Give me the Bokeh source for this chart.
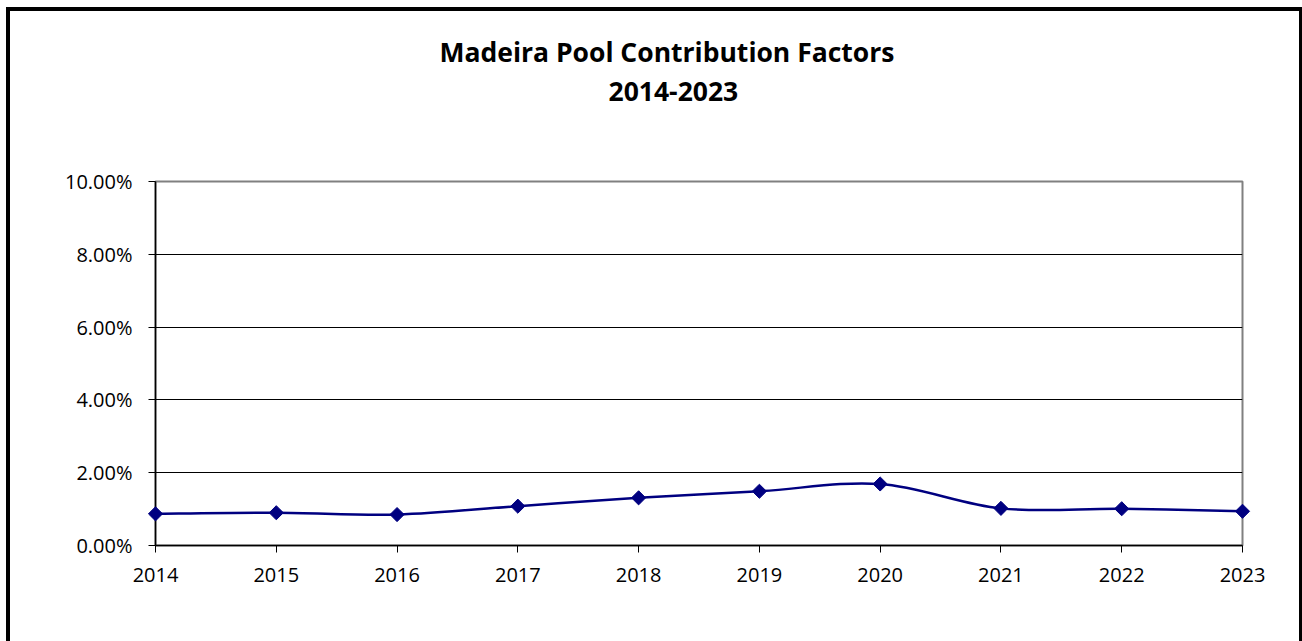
import math
from bokeh.plotting import figure
from bokeh.models import Title, NumeralTickFormatter, FixedTicker, Range1d, ColumnDataSource
from bokeh.embed import file_html
from bokeh.resources import INLINE

# ---- data ----
years = [2014, 2015, 2016, 2017, 2018, 2019, 2020, 2021, 2022, 2023]
values = [0.0087, 0.0090, 0.0085, 0.0108, 0.0131, 0.0149, 0.0169, 0.0102, 0.0101, 0.0094]
y_ticks = [0.0, 0.02, 0.04, 0.06, 0.08, 0.10]
grid_ticks = [0.02, 0.04, 0.06, 0.08]
title_lines = ["Madeira Pool Contribution Factors", "2014-2023"]

FONT = "Open Sans"
NAVY = "#000080"

p = figure(width=1302, height=641, output_backend="svg", toolbar_location=None,
           x_range=Range1d(years[0], years[-1]), y_range=Range1d(y_ticks[0], y_ticks[-1]),
           min_border_left=155, min_border_right=60, min_border_top=181, min_border_bottom=96)
p.background_fill_color = "white"
p.border_fill_color = None
p.outline_line_color = "#808080"
p.outline_line_width = 2

# outer black frame (left, top, right) drawn behind the transparent canvas border
p.styles = {
    "background": "white",
    "box-shadow": ("inset 6px 0 0 0 white, inset 0 7px 0 0 white, "
                   "inset 10px 0 0 0 black, inset 0 11px 0 0 black, inset -3px 0 0 0 black"),
}

# axes
for ax in (p.xaxis[0], p.yaxis[0]):
    ax.axis_line_color = "black"
    ax.axis_line_width = 1.5
    ax.major_tick_line_color = "black"
    ax.major_tick_line_width = 1
    ax.major_tick_out = 7
    ax.major_tick_in = 0
    ax.minor_tick_line_color = None
    ax.major_label_text_font = FONT
    ax.major_label_text_font_size = "20px"
    ax.major_label_text_color = "black"

p.xaxis.ticker = FixedTicker(ticks=years)
p.xaxis.major_label_standoff = 15
p.yaxis.ticker = FixedTicker(ticks=y_ticks)
p.yaxis.formatter = NumeralTickFormatter(format="0.00%")
p.yaxis.major_label_standoff = 16

p.xgrid.grid_line_color = None
p.ygrid.ticker = FixedTicker(ticks=grid_ticks)
p.ygrid.grid_line_color = "black"
p.ygrid.grid_line_width = 1

# smoothed line (Catmull-Rom style bezier segments, as Excel's smoothed line)
n = len(years)
seg = dict(x0=[], y0=[], x1=[], y1=[], cx0=[], cy0=[], cx1=[], cy1=[])
for i in range(n - 1):
    xm1, ym1 = (years[i - 1], values[i - 1]) if i > 0 else (years[i], values[i])
    xp2, yp2 = (years[i + 2], values[i + 2]) if i + 2 < n else (years[i + 1], values[i + 1])
    seg["x0"].append(years[i]); seg["y0"].append(values[i])
    seg["x1"].append(years[i + 1]); seg["y1"].append(values[i + 1])
    seg["cx0"].append(years[i] + (years[i + 1] - xm1) / 6)
    seg["cy0"].append(values[i] + (values[i + 1] - ym1) / 6)
    seg["cx1"].append(years[i + 1] - (xp2 - years[i]) / 6)
    seg["cy1"].append(values[i + 1] - (yp2 - values[i]) / 6)
p.bezier(x0="x0", y0="y0", x1="x1", y1="y1", cx0="cx0", cy0="cy0", cx1="cx1", cy1="cy1",
         source=ColumnDataSource(seg), line_color=NAVY, line_width=2.5)

pts = p.scatter(years, values, marker="square", size=10, angle=math.pi / 4,
                fill_color=NAVY, line_color=NAVY)
pts.level = "overlay"

# title: spacer + two lines (added nearest-to-frame first)
spacer = Title(text=" ", text_font_size="2px", standoff=68, text_color="white")
t2 = Title(text=title_lines[1], align="left", offset=453, standoff=17,
           text_font=FONT, text_font_style="bold", text_font_size="26.5px", text_color="black")
t1 = Title(text=title_lines[0], align="left", offset=284, standoff=4,
           text_font=FONT, text_font_style="bold", text_font_size="26.5px", text_color="black")
p.add_layout(spacer, "above")
p.add_layout(t2, "above")
p.add_layout(t1, "above")

open("out.html", "w").write(file_html(p, INLINE))
